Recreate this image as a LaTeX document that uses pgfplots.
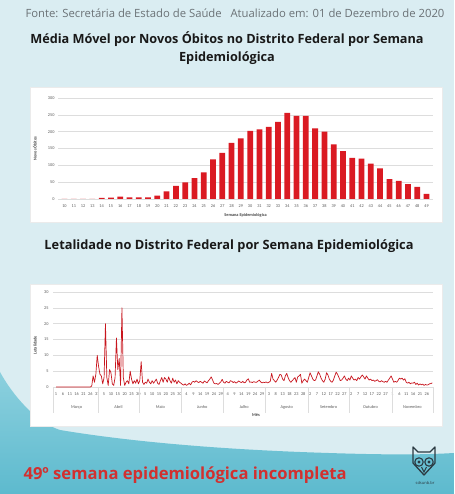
\documentclass[border=0pt]{standalone}
\usepackage{pgfplots}
\pgfplotsset{compat=1.18}
\usepackage{pgfplotstable}
\usepackage{fontspec}
\setmainfont{Open Sans}
\newfontfamily\carlito{Carlito}
\definecolor{bgblue}{HTML}{DAEDF2}
\definecolor{teal1}{HTML}{5DBACE}
\definecolor{teal2}{HTML}{8CD0DE}
\definecolor{barred}{HTML}{DA1A22}
\definecolor{linered}{HTML}{C8161E}
\definecolor{gridc}{HTML}{DDDDDD}
\definecolor{tickc}{HTML}{595959}
\definecolor{footred}{HTML}{D2302F}
\definecolor{srcgray}{HTML}{6B7276}
\definecolor{owlc}{HTML}{2B3A42}

\pgfplotstableread{
w v
10 0
11 0
12 0
13 0
14 3
15 4
16 7
17 5
18 5
19 5
20 10
21 23
22 39
23 49
24 62
25 79
26 118
27 137
28 167
29 180
30 202
31 207
32 214
33 229
34 256
35 247
36 247
37 210
38 200
39 162
40 142
41 122
42 120
43 105
44 91
45 59
46 54
47 44
48 36
49 15
}\obitos

\begin{document}
\begin{tikzpicture}[x=1pt,y=1pt]
\useasboundingbox (0,0) rectangle (454,494);
% background
\fill[bgblue] (0,0) rectangle (454,494);
\shade[top color=teal2, bottom color=teal1]
  (0,0) -- (0,122) .. controls (12,100) and (35,72) .. (60,64)
  .. controls (120,54) and (200,46) .. (300,42)
  .. controls (380,39) and (420,39) .. (454,41) -- (454,0) -- cycle;
% panels
\fill[white] (30,272) rectangle (442,407);
\fill[white] (30,68) rectangle (442,210);
\draw[gridc!60!white, line width=0.3pt] (30,272) rectangle (442,407);
\draw[gridc!60!white, line width=0.3pt] (30,68) rectangle (442,210);
% texts
\node[text=srcgray, font=\fontsize{11.3}{13}\selectfont] at (235,481)
  {Fonte: Secretária de Estado de Saúde \ \ Atualizado em: 01 de Dezembro de 2020};
\node[align=center, font=\bfseries\fontsize{12.7}{18}\selectfont, text=black!90] at (227,446)
  {Média Móvel por Novos Óbitos no Distrito Federal por Semana\\Epidemiológica};
\node[font=\bfseries\fontsize{12.8}{15}\selectfont, text=black!90] at (229,248)
  {Letalidade no Distrito Federal por Semana Epidemiológica};
\node[anchor=west, font=\bfseries\fontsize{16.6}{19}\selectfont, text=footred] at (20,19)
  {49º semana epidemiológica incompleta};
% owl logo
\draw[owlc, line width=1.3pt, line join=round]
  (413,47) -- (418,42) -- (430,42) -- (435,47) -- (435,31) -- (424,19) -- (413,31) -- cycle;
\draw[owlc, line width=1.1pt] (419,32) circle (4.2);
\draw[owlc, line width=1.1pt] (429,32) circle (4.2);
\fill[owlc] (419,32) circle (1.6);
\fill[owlc] (429,32) circle (1.6);
\draw[owlc, line width=1pt] (421.5,27) -- (424,22) -- (426.5,27);
\node[text=owlc, font=\fontsize{4}{5}\selectfont] at (425,11) {sdsunb.br};

% chart 1
\begin{axis}[
  at={(58pt,295pt)}, anchor=south west,
  scale only axis, width=375pt, height=101pt,
  ybar, bar width=0.62,
  xmin=9.3, xmax=49.7, ymin=0, ymax=300,
  enlargelimits=false,
  ytick={0,50,...,300},
  xtick={10,...,49},
  ymajorgrids, grid style={gridc, line width=0.45pt},
  axis line style={draw=none},
  major tick length=0pt,
  /pgf/number format/assume math mode=true,
  ticklabel style={font=\carlito\fontsize{4.3}{5}\selectfont, text=tickc},
  xticklabel style={yshift=-2pt},
  xlabel={Semana Epidemiológica},
  ylabel={Novos Óbitos},
  xlabel style={at={(axis description cs:0.5,-0.158)}, anchor=center,
    font=\carlito\bfseries\fontsize{4.3}{5}\selectfont, text=tickc!80!black},
  ylabel style={at={(axis description cs:-0.062,0.5)}, anchor=center,
    font=\carlito\bfseries\fontsize{4.3}{5}\selectfont, text=tickc!80!black},
]
\addplot[fill=barred, draw=none] table[x=w, y=v] {\obitos};
\end{axis}

% chart 2
\begin{axis}[
  at={(53pt,107pt)}, anchor=south west,
  scale only axis, width=380pt, height=95pt,
  xmin=-1.2, xmax=275.5, ymin=0, ymax=30,
  enlargelimits=false, clip=false,
  ytick={0,5,...,30},
  xtick={1,6,...,271},
  xticklabels={1,6,11,16,21,26,31,5,10,15,20,25,30,5,10,15,20,25,30,4,9,14,19,24,29,4,9,14,19,24,29,3,8,13,18,23,28,2,7,12,17,22,27,2,7,12,17,22,27,1,6,11,16,21,26},
  ymajorgrids, grid style={gridc, line width=0.45pt},
  axis line style={draw=none},
  major tick length=0pt,
  /pgf/number format/assume math mode=true,
  ticklabel style={font=\carlito\fontsize{4.3}{5}\selectfont, text=tickc},
  xticklabel style={yshift=-2.5pt},
  yticklabel style={xshift=-1pt},
  xlabel={Mês},
  ylabel={Letalidade},
  xlabel style={at={(axis description cs:0.534,-0.295)}, anchor=center,
    font=\carlito\bfseries\fontsize{4.3}{5}\selectfont, text=tickc!80!black},
  ylabel style={at={(axis description cs:-0.047,0.44)}, anchor=center,
    font=\carlito\bfseries\fontsize{4.3}{5}\selectfont, text=tickc!80!black},
]
\foreach \b in {-1.2,31.5,61.5,92.5,122.5,153.5,184.5,214.5,245.5,275.5}{
  \edef\tmp{\noexpand\draw[gridc, line width=0.45pt] (axis cs:\b,0) -- ++(0pt,-26pt);}\tmp
}
\foreach \m/\c in {Março/16,Abril/46.5,Maio/77,Junho/107.5,Julho/138,Agosto/169,Setembro/199.5,Outubro/230,Novembro/260.5}{
  \edef\tmp{\noexpand\node[font=\noexpand\carlito\noexpand\fontsize{4.3}{5}\noexpand\selectfont, text=tickc] at (axis cs:\c,0) [yshift=-20pt] {\m};}\tmp
}
\addplot[linered, line width=0.7pt, line join=round] coordinates {
(1,0)(2,0)(3,0)(4,0)(5,0)(6,0)(7,0)(8,0)(9,0)(10,0)
(11,0)(12,0)(13,0)(14,0)(15,0)(16,0)(17,0)(18,0)(19,0)(20,0)
(21,0)(22,0)(23,0)(24,0)(25,0)(26,0)(27,0.3)(28,3.5)(29,1.5)(30,4)
(31,10)(32,6.5)(33,4)(34,3.5)(35,1)(36,3)(37,20)(38,3)(39,0.5)(40,5.5)
(41,4.5)(42,1)(43,0.5)(44,3)(45,15.5)(46,5.5)(47,9)(48,0.5)(49,25)(50,3)
(51,0.5)(52,1.5)(53,2)(54,1)(55,5)(56,2.5)(57,1)(58,2)(59,1.2)(60,2.5)
(61,1)(62,2)(63,8)(64,1.5)(65,0.8)(66,1.5)(67,1.2)(68,2.5)(69,1.5)(70,1)
(71,2)(72,1.2)(73,1.8)(74,2.5)(75,1.2)(76,0.8)(77,2)(78,3)(79,1.5)(80,3)
(81,2.5)(82,1.5)(83,3.2)(84,2)(85,1.2)(86,2.8)(87,1.5)(88,2.2)(89,1)(90,2)
(91,1.5)(92,1.2)(93,0.8)(94,0.6)(95,1)(96,0.5)(97,0.8)(98,1.2)(99,0.7)(100,1.5)
(101,1.8)(102,1.5)(103,2)(104,1.6)(105,1.4)(106,1.8)(107,1.5)(108,1.2)(109,1.9)(110,1.6)
(111,1.3)(112,2)(113,2.5)(114,3.2)(115,2.2)(116,1.2)(117,1)(118,1.1)(119,0.8)(120,1.2)
(121,1.6)(122,2.4)(123,1.5)(124,1.2)(125,1.8)(126,1.5)(127,1.3)(128,2)(129,1.8)(130,1.4)
(131,1.7)(132,1.2)(133,1.5)(134,1.9)(135,1.6)(136,1.4)(137,1.8)(138,1.3)(139,1.5)(140,2.2)
(141,2.6)(142,1.5)(143,1.6)(144,1.4)(145,1.7)(146,1.5)(147,1.5)(148,1.8)(149,2.2)(150,1.6)
(151,1.3)(152,1.5)(153,1.4)(154,1.6)(155,1.3)(156,1.5)(157,1.8)(158,4.3)(159,2.5)(160,2)
(161,1.5)(162,2.2)(163,3)(164,4)(165,3.8)(166,2.5)(167,2)(168,3.5)(169,4.3)(170,3)
(171,2)(172,1.5)(173,2)(174,2.5)(175,3)(176,1.5)(177,3.2)(178,3.5)(179,4)(180,1.2)
(181,2)(182,2.5)(183,2)(184,1.5)(185,3)(186,4.5)(187,3.5)(188,2.5)(189,2)(190,2.2)
(191,3.5)(192,4.8)(193,4)(194,2.8)(195,2)(196,1.5)(197,2.5)(198,4.5)(199,3.8)(200,2.5)
(201,1.8)(202,1.5)(203,2.2)(204,3.5)(205,4.7)(206,4)(207,3)(208,2)(209,2.2)(210,2.8)
(211,3.5)(212,2.5)(213,2)(214,2.8)(215,2.2)(216,3.5)(217,2.8)(218,2.2)(219,2.5)(220,2)
(221,3)(222,2.5)(223,3.2)(224,3.8)(225,3.2)(226,2.5)(227,3.5)(228,2.8)(229,2.2)(230,2.5)
(231,2)(232,2.2)(233,1.8)(234,2)(235,2.3)(236,1.8)(237,1.6)(238,2)(239,1.7)(240,1.5)
(241,1.8)(242,1.5)(243,2.2)(244,2.8)(245,3.5)(246,2.5)(247,1.5)(248,1.8)(249,1.5)(250,2)
(251,2.8)(252,2.5)(253,2.8)(254,2.2)(255,2.6)(256,1.5)(257,1.2)(258,1.5)(259,1)(260,1.3)
(261,1.2)(262,1.5)(263,0.8)(264,1.2)(265,0.6)(266,1)(267,0.7)(268,0.9)(269,0.5)(270,0.8)
(271,0.6)(272,0.7)(273,1)(274,1.1)(275,1.3)
};
\end{axis}
\end{tikzpicture}
\end{document}
